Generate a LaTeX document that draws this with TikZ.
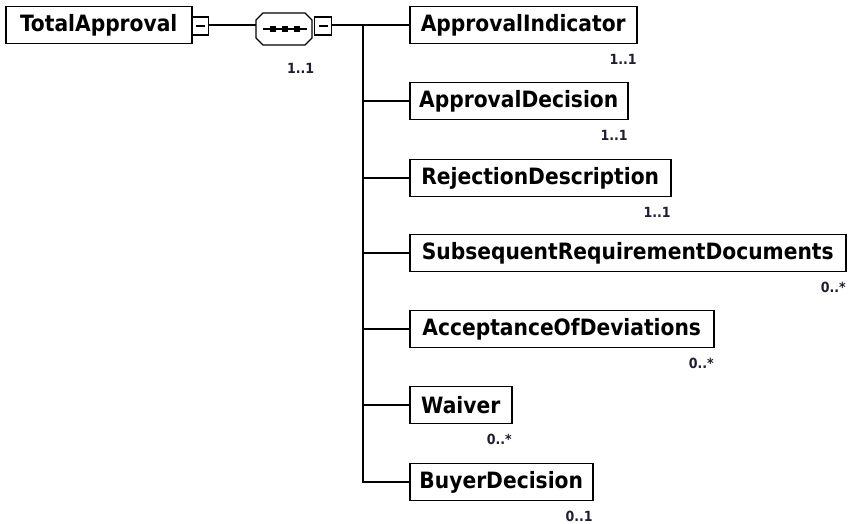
\documentclass[tikz,border=0pt]{standalone}
\usepackage{fontspec}
\newfontfamily\boxfont{DejaVu Sans Condensed}
\definecolor{cardcol}{HTML}{1E1E30}
\begin{document}
\begin{tikzpicture}[x=1pt,y=-1pt,line width=1.5pt,
  elem/.style={draw, anchor=west, minimum height=37pt, inner sep=0pt, line width=1.5pt,
    font=\boxfont\bfseries\fontsize{22.5}{24}\selectfont},
  card/.style={anchor=north east, inner sep=0pt,
    font=\boxfont\bfseries\fontsize{14}{15}\selectfont, text=cardcol},
  minusbox/.style={draw, minimum width=17pt, minimum height=18pt, inner sep=0pt, line width=1.3pt,
    path picture={\draw[line width=1.2pt] ([xshift=-4.5pt]path picture bounding box.center) -- ([xshift=4.5pt]path picture bounding box.center);}},
  conn/.style={line width=1.5pt}]
\useasboundingbox (0,0) rectangle (849,524);

% root element
\node[elem, minimum width=186pt] (total) at (5,25) {TotalApproval};
\node[minusbox, anchor=west] (tm) at (191,26) {};

% sequence compositor
\coordinate (sq) at (284,29);
\node[minimum width=56pt, minimum height=32pt, inner sep=0pt] (seq) at (sq) {};
\draw[line width=1.4pt] (256,20) -- (263,13) -- (305,13) -- (312,20) -- (312,38) -- (305,45) -- (263,45) -- (256,38) -- cycle;
\draw[line width=1.3pt] (263,29) -- (307,29);
\foreach \dx in {273,285,297} \fill (\dx-3,26) rectangle (\dx+3,32);
\node[minusbox, anchor=west] (sm) at (314,26) {};
\node[card] (seqcard) at (315,63) {1..1};

% branch point
\coordinate (br) at (363,25);

% children
\node[elem, minimum width=227pt] (c1) at (409,25) {ApprovalIndicator};
\node[elem, minimum width=218pt] (c2) at (409,101) {ApprovalDecision};
\node[elem, minimum width=261pt] (c3) at (409,178) {RejectionDescription};
\node[elem, minimum width=436pt] (c4) at (409,253) {SubsequentRequirementDocuments};
\node[elem, minimum width=304pt] (c5) at (409,329) {AcceptanceOfDeviations};
\node[elem, minimum width=102pt] (c6) at (409,405) {Waiver};
\node[elem, minimum width=183pt] (c7) at (409,482) {BuyerDecision};

\node[card] (k1) at ([yshift=-9pt]c1.south east) {1..1};
\node[card] (k2) at ([yshift=-9pt]c2.south east) {1..1};
\node[card] (k3) at ([yshift=-9pt]c3.south east) {1..1};
\node[card] (k4) at ([yshift=-9pt]c4.south east) {0..*};
\node[card] (k5) at ([yshift=-9pt]c5.south east) {0..*};
\node[card] (k6) at ([yshift=-9pt]c6.south east) {0..*};
\node[card] (k7) at ([yshift=-9pt]c7.south east) {0..1};

% connectors
\coordinate (tmr) at (208,25);
\coordinate (seql) at (256,25);
\coordinate (smr) at (331,25);
\draw[conn] (tmr) -- (seql);
\draw[conn] (smr) -- (c1.west);
\draw[conn] (br) -- (br |- c7.west) -- (c7.west);
\foreach \c in {c2,c3,c4,c5,c6} \draw[conn] (br |- \c.west) -- (\c.west);
\end{tikzpicture}
\end{document}
